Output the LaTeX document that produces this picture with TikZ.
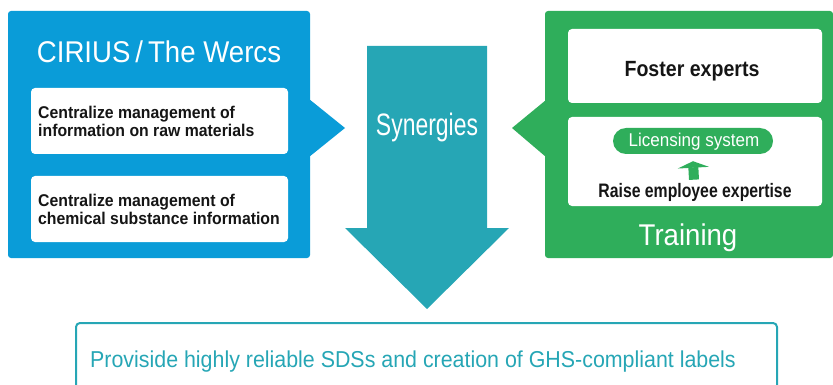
\documentclass[tikz,border=0pt]{standalone}
\usepackage{fontspec}
\setmainfont{Liberation Sans}
\usetikzlibrary{arrows.meta,calc}
\newcommand\nar[1]{\addfontfeatures{FakeStretch=#1}}
\definecolor{cblue}{HTML}{0A9CD8}
\definecolor{cgreen}{HTML}{2FAE5B}
\definecolor{cteal}{HTML}{26A6B5}
\definecolor{ctext}{HTML}{151515}
\begin{document}
\begin{tikzpicture}[x=1pt,y=-1pt,
  panel/.style={rounded corners=3pt, inner sep=0pt},
  whitebox/.style={fill=white, rounded corners=4pt, inner sep=0pt},
  itemtext/.style={text=ctext, font=\fontsize{17}{18}\selectfont\bfseries\nar{0.93}, align=left, inner sep=0pt, anchor=base west},
  bigtext/.style={text=white, font=\fontsize{30}{32}\selectfont\nar{0.92}, inner sep=0pt, anchor=base}]
\useasboundingbox (0,0) rectangle (833,385);
% left panel
\fill[cblue, panel] (8,11) rectangle (310,258);
\fill[cblue] (309,99) -- (345,128) -- (309,157) -- cycle;
\node[bigtext] (title) at (159,63) {CIRIUS\,/\,The Wercs};
\node[whitebox, minimum width=257pt, minimum height=66pt] (box1) at (159.5,121) {};
\node[whitebox, minimum width=257pt, minimum height=66pt] (box2) at (159.5,209) {};
\node[itemtext] (t1) at (38,137) {Centralize management of\\information on raw materials};
\node[itemtext] (t2) at (38,224) {Centralize management of\\chemical substance information};
% central arrow
\fill[cteal] (367,46) -- (487,46) -- (487,228) -- (509,228) -- (427,309) -- (345,228) -- (367,228) -- cycle;
\node[bigtext, font=\fontsize{31}{33}\selectfont\nar{0.74}] (syn) at (427,136) {Synergies};
% right panel
\fill[cgreen, panel] (545,11) rectangle (833,258);
\fill[cgreen] (546,100) -- (512,128) -- (546,157) -- cycle;
\node[whitebox, minimum width=254pt, minimum height=74pt] (foster) at (695,66) {};
\node[text=ctext, font=\fontsize{22}{24}\selectfont\bfseries\nar{0.89}, inner sep=0pt, anchor=base] (fostert) at (692,77) {Foster experts};
\node[whitebox, minimum width=254pt, minimum height=89pt] (lower) at (695,161.5) {};
\node[fill=cgreen, rounded corners=13pt, minimum width=160pt, minimum height=26pt, inner sep=0pt] (pill) at (693,141) {};
\node[text=white, font=\fontsize{18.5}{20}\selectfont\nar{0.92}, inner sep=0pt, anchor=base] (pillt) at (694,147) {Licensing system};
\node[text=ctext, font=\fontsize{19.5}{21}\selectfont\bfseries\nar{0.81}, inner sep=0pt, anchor=base] (raise) at (695,197) {Raise employee expertise};
\draw[cgreen, line width=10pt, -{Triangle[width=31pt,length=6.5pt]}] ($(raise.north)+(-1,-3)$) -- ($(pill.south)+(0,7)$);
\node[bigtext] (train) at (688,245) {Training};
% bottom box
\draw[cteal, line width=2pt, rounded corners=4pt] (76,400) -- (76,323) -- (777,323) -- (777,400);
\node[text=cteal, font=\fontsize{23}{25}\selectfont\nar{0.93}, inner sep=0pt, anchor=base west] (result) at (90,367) {Proviside highly reliable SDSs and creation of GHS-compliant labels};
\end{tikzpicture}
\end{document}
